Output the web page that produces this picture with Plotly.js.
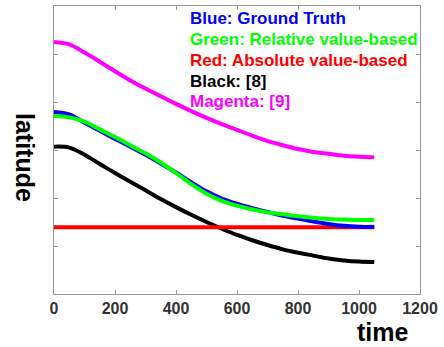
<!DOCTYPE html>
<html><head><meta charset="utf-8">
<script src="https://cdn.plot.ly/plotly-3.0.1.min.js"></script>
<style>html,body{margin:0;padding:0;background:#fff}#chart{width:444px;height:347px}</style>
</head><body><div id="chart"></div>
<script>
const time = [0, 50, 100, 150, 200, 250, 300, 350, 400, 450, 500, 550, 600, 650, 700, 750, 800, 850, 900, 950, 1000, 1050];
const groundTruth = [3.79, 3.74, 3.57, 3.40, 3.23, 3.07, 2.90, 2.72, 2.53, 2.33, 2.14, 1.99, 1.88, 1.79, 1.71, 1.63, 1.57, 1.51, 1.46, 1.42, 1.40, 1.40];
const relativeBased = [3.71, 3.68, 3.59, 3.43, 3.27, 3.10, 2.93, 2.74, 2.52, 2.29, 2.09, 1.94, 1.84, 1.76, 1.70, 1.66, 1.62, 1.59, 1.565, 1.55, 1.54, 1.54];
const absoluteBased = [1.39, 1.39, 1.39, 1.39, 1.39, 1.39, 1.39, 1.39, 1.39, 1.39, 1.39, 1.39, 1.39, 1.39, 1.39, 1.39, 1.39, 1.39, 1.39, 1.39, 1.39, 1.39];
const method8 = [3.07, 3.05, 2.90, 2.71, 2.52, 2.34, 2.16, 1.98, 1.81, 1.65, 1.50, 1.36, 1.23, 1.12, 1.02, 0.93, 0.86, 0.80, 0.74, 0.70, 0.675, 0.665];
const method9 = [5.25, 5.20, 5.03, 4.84, 4.64, 4.45, 4.28, 4.12, 3.96, 3.81, 3.67, 3.54, 3.42, 3.30, 3.19, 3.10, 3.02, 2.96, 2.92, 2.88, 2.86, 2.85];
const xTicks = [0, 200, 400, 600, 800, 1000, 1200];
const legendLines = [
  ["Blue: Ground Truth", "#0000ff"],
  ["Green: Relative value-based", "#00ff00"],
  ["Red: Absolute value-based", "#ff0000"],
  ["Black: [8]", "#000000"],
  ["Magenta: [9]", "#ff00ff"]
];

function tr(y, color) {
  return {x: time, y: y, type: 'scatter', mode: 'lines',
    line: {color: color, width: 4, shape: 'spline', smoothing: 1}, showlegend: false, hoverinfo: 'skip'};
}
const data = [
  tr(method9, '#ff00ff'),
  tr(method8, '#000000'),
  tr(absoluteBased, '#ff0000'),
  tr(groundTruth, '#0000ff'),
  tr(relativeBased, '#00ff00')
];

const FONT = 'Liberation Sans, Arial, sans-serif';
const annotations = legendLines.map((l, i) => ({
  text: l[0], xref: 'paper', yref: 'paper', x: (188 - 54) / 366, y: 1 - (19 + i * 20.7 - 6) / 288,
  xanchor: 'left', yanchor: 'middle', showarrow: false,
  font: {family: FONT, size: 17, color: l[1], weight: 'bold'}
}));
annotations.push({text: 'time', xref: 'paper', yref: 'paper', x: (383 - 54) / 366, y: -(332 - 294) / 288,
  xanchor: 'center', yanchor: 'middle', showarrow: false,
  font: {family: FONT, size: 25, color: '#000', weight: 'bold'}});
annotations.push({text: 'latitude', xref: 'paper', yref: 'paper', x: (25 - 54) / 366, y: 1 - (157 - 6) / 288,
  xanchor: 'center', yanchor: 'middle', showarrow: false, textangle: 90,
  font: {family: FONT, size: 25, color: '#000', weight: 'bold'}});

const layout = {
  width: 444, height: 347,
  margin: {l: 54, r: 24, t: 6, b: 53},
  paper_bgcolor: '#fff', plot_bgcolor: '#fff',
  xaxis: {range: [0, 1200], tickvals: xTicks, ticktext: xTicks.map(String), ticks: 'inside', ticklen: 4,
    tickcolor: '#999', showline: true, linecolor: '#999', linewidth: 1, mirror: 'ticks', showgrid: false, zeroline: false,
    tickfont: {family: FONT, size: 16, color: '#333', weight: 'bold'}},
  yaxis: {range: [0, 6], dtick: 1, tick0: 0, ticks: 'inside', ticklen: 4, showticklabels: false,
    tickcolor: '#999', showline: true, linecolor: '#999', linewidth: 1, mirror: 'ticks', showgrid: false, zeroline: false},
  annotations: annotations
};
Plotly.newPlot('chart', data, layout, {displayModeBar: false, staticPlot: true});
</script></body></html>
